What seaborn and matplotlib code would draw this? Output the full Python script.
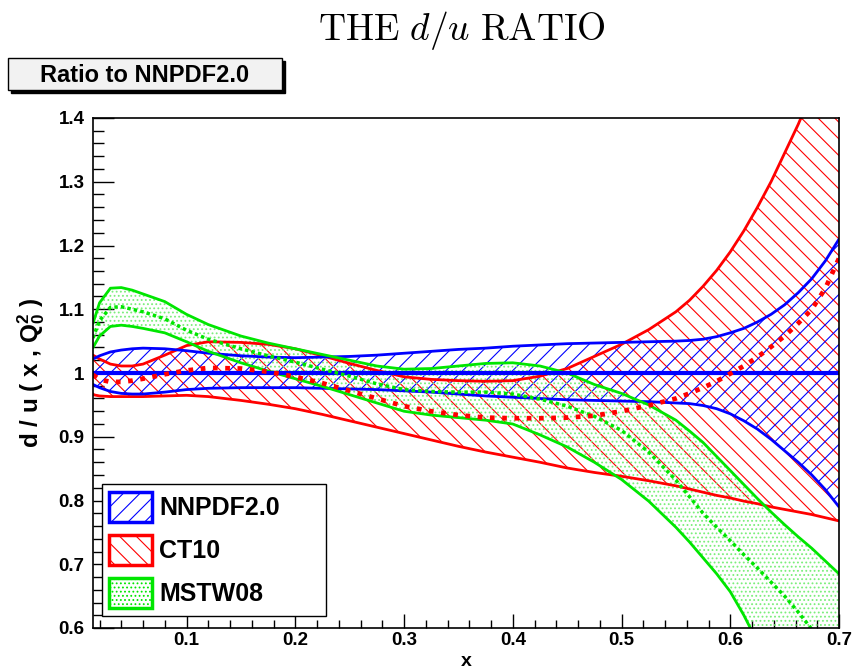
import numpy as np
import pandas as pd
import matplotlib
matplotlib.use("Agg")
import matplotlib.pyplot as plt
from matplotlib.patches import Patch, Rectangle
import seaborn as sns

# x grid and ratios to NNPDF2.0
x = [0.014, 0.02, 0.03, 0.04, 0.05, 0.06, 0.08, 0.10, 0.12, 0.15, 0.175, 0.2,
     0.225, 0.25, 0.275, 0.3, 0.325, 0.35, 0.375, 0.4, 0.425, 0.45, 0.475, 0.5,
     0.525, 0.55, 0.5625, 0.575, 0.5875, 0.6, 0.6125, 0.625, 0.6375, 0.65, 0.6625,
     0.675, 0.6875, 0.7]

nn_c = [1.0] * len(x)
nn_hi = [1.022, 1.027, 1.033, 1.036, 1.038, 1.039, 1.038, 1.035, 1.031, 1.027, 1.025, 1.024,
         1.025, 1.026, 1.028, 1.031, 1.034, 1.037, 1.039, 1.042, 1.044, 1.046, 1.047, 1.048,
         1.049, 1.050, 1.051, 1.053, 1.057, 1.063, 1.070, 1.080, 1.092, 1.107, 1.126,
         1.148, 1.176, 1.210]
nn_lo = [0.982, 0.977, 0.971, 0.968, 0.967, 0.967, 0.970, 0.974, 0.976, 0.977, 0.977, 0.977,
         0.976, 0.975, 0.974, 0.972, 0.970, 0.967, 0.964, 0.962, 0.960, 0.958, 0.957, 0.956,
         0.955, 0.953, 0.952, 0.949, 0.944, 0.936, 0.925, 0.912, 0.896, 0.878, 0.860,
         0.840, 0.817, 0.790]

ct_c = [0.997, 0.990, 0.986, 0.986, 0.988, 0.991, 0.998, 1.004, 1.008, 1.007, 1.002, 0.994,
        0.984, 0.972, 0.960, 0.948, 0.940, 0.934, 0.930, 0.929, 0.929, 0.930, 0.933, 0.940,
        0.949, 0.960, 0.968, 0.977, 0.987, 0.999, 1.011, 1.025, 1.041, 1.058, 1.078,
        1.100, 1.133, 1.180]
ct_hi = [1.028, 1.022, 1.014, 1.011, 1.011, 1.014, 1.028, 1.043, 1.049, 1.048, 1.045, 1.038,
         1.027, 1.015, 1.004, 0.994, 0.990, 0.988, 0.987, 0.988, 0.995, 1.007, 1.026, 1.045,
         1.068, 1.096, 1.114, 1.136, 1.161, 1.190, 1.223, 1.260, 1.300, 1.345, 1.390,
         1.440, 1.495, 1.560]
ct_lo = [0.966, 0.964, 0.963, 0.963, 0.963, 0.963, 0.964, 0.965, 0.963, 0.957, 0.951, 0.944,
         0.935, 0.925, 0.915, 0.905, 0.895, 0.885, 0.876, 0.868, 0.860, 0.851, 0.844, 0.838,
         0.831, 0.823, 0.818, 0.813, 0.808, 0.804, 0.799, 0.795, 0.790, 0.786, 0.782,
         0.778, 0.773, 0.768]

ms_c = [1.055, 1.082, 1.103, 1.104, 1.100, 1.096, 1.085, 1.067, 1.053, 1.038, 1.027, 1.017,
        1.006, 0.995, 0.983, 0.974, 0.971, 0.970, 0.970, 0.967, 0.959, 0.948, 0.932, 0.910,
        0.876, 0.832, 0.806, 0.780, 0.758, 0.737, 0.715, 0.694, 0.672, 0.650, 0.625,
        0.598, 0.570, 0.540]
ms_hi = [1.078, 1.110, 1.133, 1.134, 1.130, 1.124, 1.112, 1.092, 1.076, 1.058, 1.047, 1.038,
         1.029, 1.020, 1.011, 1.006, 1.007, 1.011, 1.015, 1.016, 1.011, 1.000, 0.982, 0.968,
         0.950, 0.926, 0.909, 0.891, 0.869, 0.847, 0.825, 0.803, 0.782, 0.762, 0.743,
         0.725, 0.705, 0.685]
ms_lo = [1.040, 1.058, 1.073, 1.075, 1.073, 1.070, 1.063, 1.049, 1.034, 1.016, 1.003, 0.991,
         0.979, 0.966, 0.953, 0.940, 0.934, 0.930, 0.926, 0.920, 0.903, 0.884, 0.860, 0.833,
         0.799, 0.758, 0.735, 0.710, 0.685, 0.657, 0.620, 0.578, 0.535, 0.490, 0.445,
         0.400, 0.350, 0.300]

xticks = [0.1, 0.2, 0.3, 0.4, 0.5, 0.6, 0.7]
xtick_labels = ["0.1", "0.2", "0.3", "0.4", "0.5", "0.6", "0.7"]
yticks = [0.6, 0.7, 0.8, 0.9, 1.0, 1.1, 1.2, 1.3, 1.4]
ytick_labels = ["0.6", "0.7", "0.8", "0.9", "1", "1.1", "1.2", "1.3", "1.4"]

sns.set_theme(style="ticks")
plt.rcParams["font.family"] = ["Liberation Sans", "DejaVu Sans"]
plt.rcParams["mathtext.fontset"] = "custom"
plt.rcParams["mathtext.rm"] = "Liberation Sans:bold"
plt.rcParams["mathtext.it"] = "Liberation Sans:bold"
plt.rcParams["mathtext.bf"] = "Liberation Sans:bold"
plt.rcParams["hatch.linewidth"] = 0.8
for k in ["text.color", "axes.labelcolor", "xtick.color", "ytick.color"]:
    plt.rcParams[k] = "black"

BLUE, RED, GREEN, LGREEN = "#0000ff", "#ff0000", "#00e600", "#7aee7a"
H_NN, H_CT, H_MS = "//", "\\\\", "...."

fig = plt.figure(figsize=(8.52, 6.72), dpi=100)
ax = fig.add_axes([93 / 852, 1 - 628 / 672, 746 / 852, 510 / 672])

# bands
ax.fill_between(x, ct_lo, ct_hi, facecolor="none", edgecolor=RED, linewidth=0, hatch=H_CT)
ax.fill_between(x, nn_lo, nn_hi, facecolor="none", edgecolor=BLUE, linewidth=0, hatch=H_NN)
ax.fill_between(x, ms_lo, ms_hi, facecolor="none", edgecolor=LGREEN, linewidth=0, hatch=H_MS)

df = pd.DataFrame({"x": x, "nn_c": nn_c, "nn_hi": nn_hi, "nn_lo": nn_lo,
                   "ct_c": ct_c, "ct_hi": ct_hi, "ct_lo": ct_lo,
                   "ms_c": ms_c, "ms_hi": ms_hi, "ms_lo": ms_lo})

for col, c in [("ct_hi", RED), ("ct_lo", RED), ("nn_hi", BLUE), ("nn_lo", BLUE),
               ("ms_hi", GREEN), ("ms_lo", GREEN)]:
    sns.lineplot(data=df, x="x", y=col, ax=ax, color=c, lw=2.0, estimator=None, sort=False)

sns.lineplot(data=df, x="x", y="nn_c", ax=ax, color=BLUE, lw=3.0, estimator=None)
l1 = sns.lineplot(data=df, x="x", y="ms_c", ax=ax, color=GREEN, lw=2.5, estimator=None).lines[-1]
l1.set_dashes((1.0, 0.9))
l1.set_dash_capstyle("butt")
l2 = sns.lineplot(data=df, x="x", y="ct_c", ax=ax, color=RED, lw=3.4, estimator=None).lines[-1]
l2.set_dashes((1.0, 1.6))
l2.set_dash_capstyle("butt")

ax.set_xlim(0.014, 0.7)
ax.set_ylim(0.6, 1.4)
ax.set_xticks(xticks, xtick_labels)
ax.set_yticks(yticks, ytick_labels)
ax.set_xticks(np.arange(0.02, 0.7, 0.02), minor=True)
ax.set_yticks(np.arange(0.62, 1.4, 0.02), minor=True)
ax.tick_params(axis="both", which="both", direction="in", labelsize=13.5, color="black",
               width=1.0, top=False, right=False)
for lab in ax.get_xticklabels() + ax.get_yticklabels():
    lab.set_fontweight("bold")
ax.tick_params(axis="y", which="major", length=15, pad=6)
ax.tick_params(axis="y", which="minor", length=8)
ax.tick_params(axis="x", which="major", length=10, pad=3)
ax.tick_params(axis="x", which="minor", length=5.5)
for s in ax.spines.values():
    s.set_color("black")
    s.set_linewidth(1.2)

ax.set_xlabel("x", fontsize=14, fontweight="bold", labelpad=3)
ax.set_ylabel(r"d / u ( x , Q$_{0}^{2}$ )", fontsize=17.5, fontweight="bold", labelpad=8)

handles = [Patch(facecolor="white", edgecolor=BLUE, hatch=H_NN, linewidth=2.5),
           Patch(facecolor="white", edgecolor=RED, hatch=H_CT, linewidth=2.5),
           Patch(facecolor="white", edgecolor=GREEN, hatch=H_MS, linewidth=2.5)]
leg = ax.legend(handles, ["NNPDF2.0", "CT10", "MSTW08"], loc="lower left",
                bbox_to_anchor=(0.0117, 0.024, 0.3, 0.29), mode="expand",
                borderaxespad=0, fancybox=False, framealpha=1, edgecolor="black",
                prop={"size": 18, "weight": "bold"}, handlelength=1.7, handleheight=1.5,
                handletextpad=0.3, labelspacing=0.5, borderpad=0.3)
leg.get_frame().set_linewidth(1.0)
for t in leg.get_texts():
    t.set_color("black")

fig.text(462 / 852, 1 - 30 / 672, r"$\mathrm{THE}\ d/u\ \mathrm{RATIO}$", ha="center",
         va="center", fontsize=27, math_fontfamily="cm")

# "Ratio to NNPDF2.0" box with shadow
W, H = 852, 672
fig.patches.append(Rectangle((11 / W, 1 - 93 / H), 274 / W, 32 / H, transform=fig.transFigure,
                             facecolor="black", edgecolor="black", zorder=1))
fig.patches.append(Rectangle((8 / W, 1 - 90 / H), 274 / W, 32 / H, transform=fig.transFigure,
                             facecolor="#f2f2f2", edgecolor="black", linewidth=1.0, zorder=2))
fig.text(145 / W, 1 - 75 / H, "Ratio to NNPDF2.0", ha="center", va="center",
         fontsize=17, fontweight="bold", zorder=3)

fig.savefig("out.png", dpi=100)
